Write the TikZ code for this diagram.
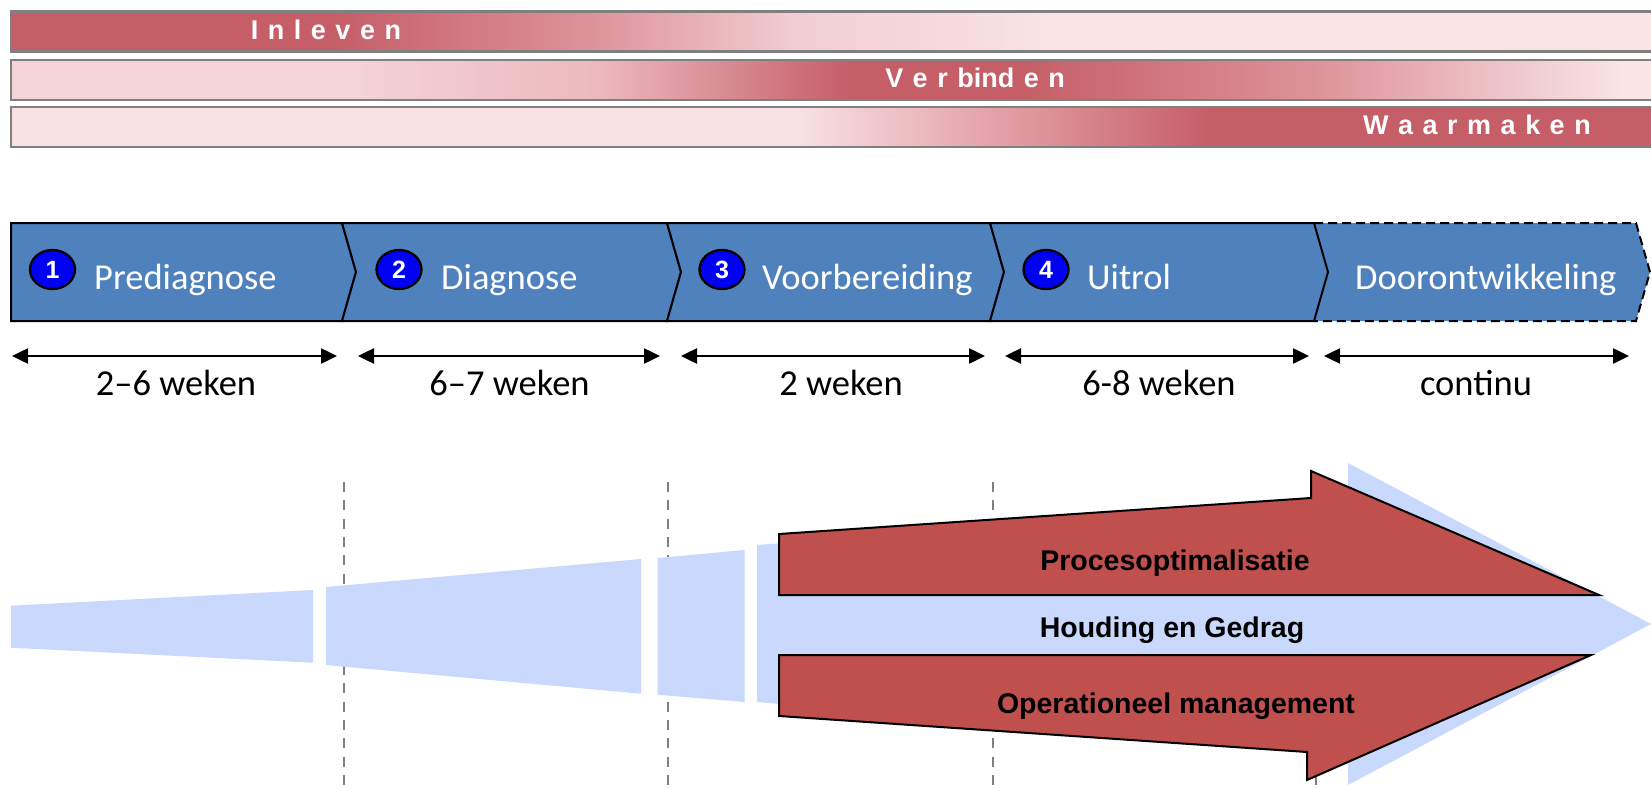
\documentclass[tikz,border=0pt]{standalone}
\usepackage{fontspec}
\setmainfont{Carlito}
\newfontfamily\arialfont{Liberation Sans}
\usetikzlibrary{arrows.meta,shapes.geometric}
\definecolor{rosedk}{RGB}{197,94,103}
\definecolor{rosemid}{RGB}{221,145,152}
\definecolor{rosemidlt}{RGB}{235,184,189}
\definecolor{roselt}{RGB}{242,206,210}
\definecolor{roselt2}{RGB}{249,228,230}
\definecolor{roseltb}{RGB}{245,212,216}
\definecolor{roselt3}{RGB}{248,224,227}
\definecolor{chevblue}{RGB}{79,129,189}
\definecolor{numblue}{RGB}{0,0,245}
\definecolor{paleblue}{RGB}{201,216,253}
\definecolor{arrred}{RGB}{192,80,77}
\definecolor{bargray}{RGB}{128,128,128}
\pgfdeclarehorizontalshading{shInleven}{100bp}{color(0bp)=(rosedk); color(34.8bp)=(rosedk); color(42.5bp)=(rosemid); color(49bp)=(roselt); color(57bp)=(roselt2); color(100bp)=(roselt2)}
\pgfdeclarehorizontalshading{shVerbinden}{100bp}{color(0bp)=(roseltb); color(35bp)=(roseltb); color(43bp)=(rosemidlt); color(50.5bp)=(rosedk); color(55.8bp)=(rosedk); color(64.5bp)=(rosemid); color(74bp)=(roselt2); color(100bp)=(roselt2)}
\pgfdeclarehorizontalshading{shWaarmaken}{100bp}{color(0bp)=(roselt3); color(49bp)=(roselt3); color(56.5bp)=(rosemid); color(61.5bp)=(rosedk); color(100bp)=(rosedk)}
\newcommand\lsgap{\hspace{9.5pt}}
\tikzset{
 barbox/.style={draw=bargray, line width=2.2pt},
 bartext/.style={anchor=base, text=white, font=\arialfont\bfseries\fontsize{27}{30}\selectfont, inner sep=0pt},
 chev/.style={fill=chevblue, draw=black, line width=2pt, line join=miter},
 chevlabel/.style={anchor=base west, text=white, font=\fontsize{36.5}{40}\selectfont, inner sep=0pt},
 numcirc/.style={ellipse, fill=numblue, draw=black, line width=2.3pt, minimum width=45pt, minimum height=39pt, inner sep=0pt, text=white, font=\arialfont\bfseries\fontsize{25}{25}\selectfont},
 durarrow/.style={line width=2.5pt, {Triangle[length=16pt,width=15pt]}-{Triangle[length=16pt,width=15pt]}},
 durlabel/.style={anchor=base, font=\fontsize{36.5}{40}\selectfont, inner sep=0pt},
 sepline/.style={draw=bargray, line width=1.5pt, dash pattern=on 10pt off 8.3pt},
 paleshape/.style={fill=paleblue},
 redarrow/.style={fill=arrred, draw=black, line width=2pt, line join=miter},
 arrtext/.style={anchor=base, font=\arialfont\bfseries\fontsize{28.5}{30}\selectfont, inner sep=0pt}
}
\begin{document}
\begin{tikzpicture}[x=1pt,y=-1pt]
\useasboundingbox (0,0) rectangle (1651,789);
\fill[white] (0,0) rectangle (1651,789);
% top bars
\shadedraw[barbox, shading=shInleven] (11,11.5) rectangle (1654,51.5);
\shadedraw[barbox, shading=shVerbinden] (11,60) rectangle (1654,100);
\shadedraw[barbox, shading=shWaarmaken] (11,107) rectangle (1654,147);
\node[bartext] (inl) at (326,40) {I\lsgap n\lsgap l\lsgap e\lsgap v\lsgap e\lsgap n};
\node[bartext] (ver) at (975,88) {V\lsgap e\lsgap r\lsgap bind\lsgap e\lsgap n};
\node[bartext] (waa) at (1477,135) {W\lsgap a\lsgap a\lsgap r\lsgap m\lsgap a\lsgap k\lsgap e\lsgap n};
% chevrons
\fill[chevblue] (1314,223) -- (1636,223) -- (1650,272) -- (1636,321) -- (1314,321) -- (1328,272) -- cycle;
\draw[black, line width=2pt, dash pattern=on 9pt off 5pt] (1314,223) -- (1636,223) -- (1650,272) -- (1636,321) -- (1314,321);
\path[chev] (11,223) -- (342,223) -- (356,272) -- (342,321) -- (11,321) -- cycle;
\path[chev] (342,223) -- (667,223) -- (681,272) -- (667,321) -- (342,321) -- (356,272) -- cycle;
\path[chev] (667,223) -- (990,223) -- (1004,272) -- (990,321) -- (667,321) -- (681,272) -- cycle;
\path[chev] (990,223) -- (1314,223) -- (1328,272) -- (1314,321) -- (990,321) -- (1004,272) -- cycle;
\node[numcirc] (n1) at (52.5,269.5) {1};
\node[numcirc] (n2) at (399,269.5) {2};
\node[numcirc] (n3) at (722,269.5) {3};
\node[numcirc] (n4) at (1046,269.5) {4};
\node[chevlabel] (l1) at (94,289) {Prediagnose};
\node[chevlabel] (l2) at (441,289) {Diagnose};
\node[chevlabel] (l3) at (762,289) {Voorbereiding};
\node[chevlabel] (l4) at (1087,289) {Uitrol};
\node[chevlabel] (l5) at (1355,289) {Doorontwikkeling};
% durations
\coordinate (d1a) at (12,356); \coordinate (d1b) at (337,356);
\coordinate (d2a) at (358,356); \coordinate (d2b) at (660,356);
\coordinate (d3a) at (681,356); \coordinate (d3b) at (985,356);
\coordinate (d4a) at (1005,356); \coordinate (d4b) at (1309,356);
\coordinate (d5a) at (1324,356); \coordinate (d5b) at (1629,356);
\draw[durarrow] (d1a) -- (d1b);
\draw[durarrow] (d2a) -- (d2b);
\draw[durarrow] (d3a) -- (d3b);
\draw[durarrow] (d4a) -- (d4b);
\draw[durarrow] (d5a) -- (d5b);
\node[durlabel] (t1) at (176,395) {2–6 weken};
\node[durlabel] (t2) at (509.5,395) {6–7 weken};
\node[durlabel] (t3) at (841,395) {2 weken};
\node[durlabel] (t4) at (1159,395) {6-8 weken};
\node[durlabel] (t5) at (1476,395) {continu};
% separators
\coordinate (s1a) at (344,482); \coordinate (s1b) at (344,792);
\coordinate (s2a) at (668,482); \coordinate (s2b) at (668,792);
\coordinate (s3a) at (993,482); \coordinate (s3b) at (993,792);
\coordinate (s4a) at (1316,482); \coordinate (s4b) at (1316,792);
\draw[sepline] (s1a) -- (s1b);
\draw[sepline] (s2a) -- (s2b);
\draw[sepline] (s3a) -- (s3b);
\draw[sepline] (s4a) -- (s4b);
% pale blue arrow
\fill[paleshape] (11,605.7) -- (313,590) -- (313,662.7) -- (11,647.7) -- cycle;
\fill[paleshape] (326,587) -- (641,559) -- (641,693.7) -- (326,665) -- cycle;
\fill[paleshape] (657.6,558) -- (744.5,550) -- (744.5,702) -- (657.6,694.7) -- cycle;
\fill[paleshape] (757,545) -- (1348,500) -- (1348,463) -- (1651,624) -- (1348,785) -- (1348,752) -- (757,702) -- cycle;
% red arrows
\path[redarrow] (779,534) -- (1311,498) -- (1311,471) -- (1599,595) -- (779,595) -- cycle;
\path[redarrow] (779,655) -- (1591,655) -- (1307,780) -- (1307,752) -- (779,716) -- cycle;
\node[arrtext] (proc) at (1175,570) {Procesoptimalisatie};
\node[arrtext] (houd) at (1172,637) {Houding en Gedrag};
\node[arrtext] (oper) at (1176,713) {Operationeel management};
\end{tikzpicture}
\end{document}
